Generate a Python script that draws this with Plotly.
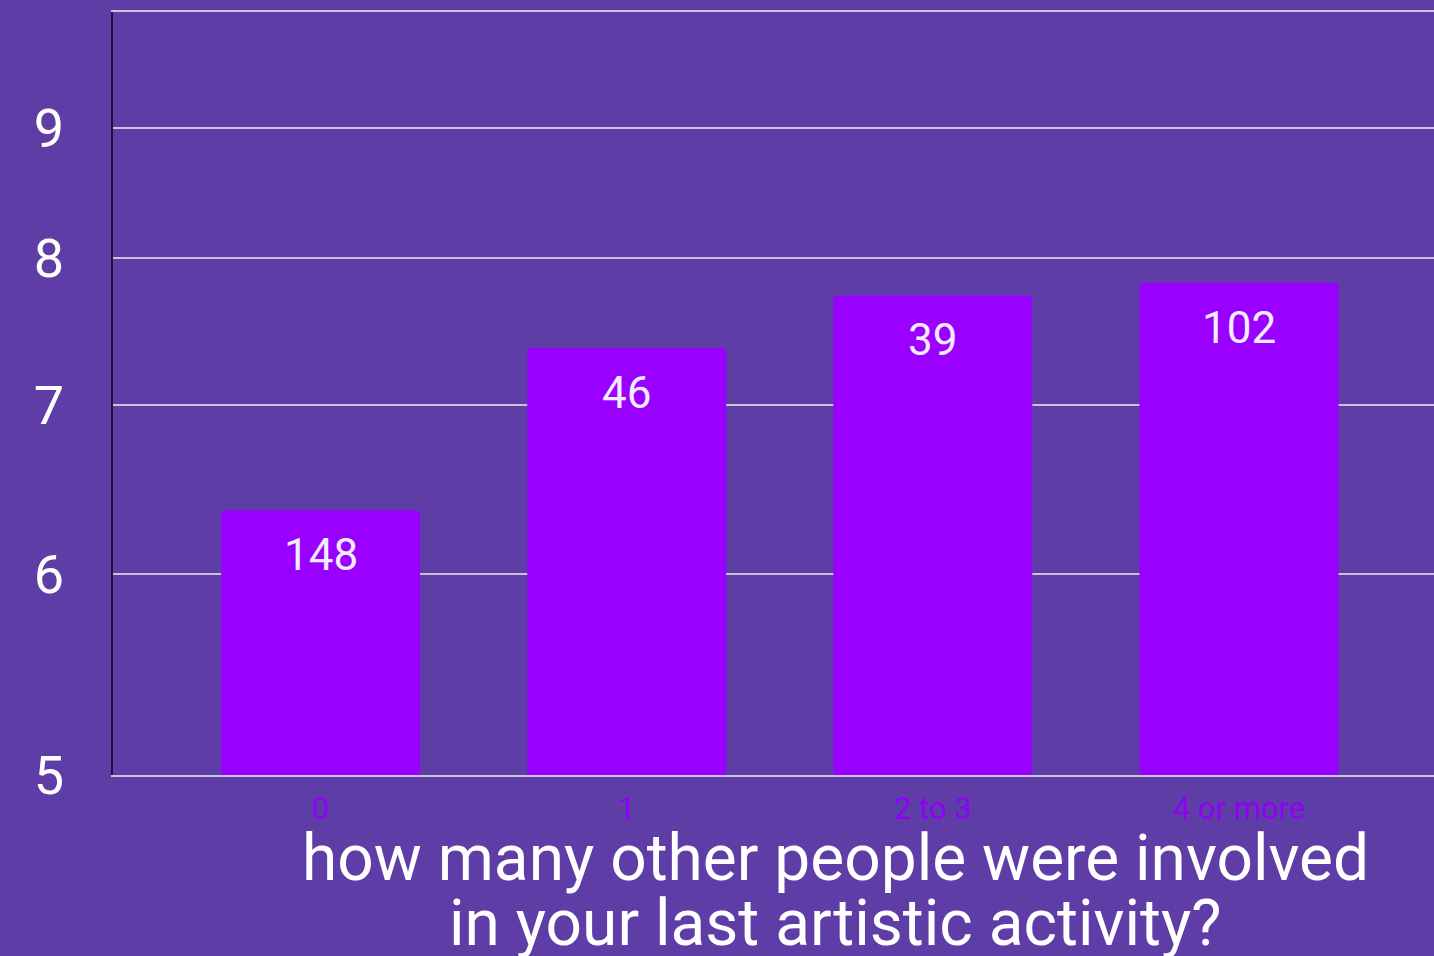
import numpy as np
import plotly.graph_objects as go

categories = ["0", "1", "2 to 3", "4 or more"]
mean_values = [6.36, 7.37, 7.73, 7.82]
counts = [148, 46, 39, 102]
y_tick_values = [5, 6, 7, 8, 9, 10]
y_tick_labels = ["5", "6", "7", "8", "9", ""]
x_title_lines = ["how many other people were involved", "in your last artistic activity?"]

BG = "#5e3da6"
BAR = "#9900ff"
GRID = "#c8c4d8"

fig = go.Figure()
fig.add_trace(go.Bar(
    x=categories, y=mean_values, width=0.65,
    marker=dict(color=BAR, line=dict(width=0), cornerradius=4),
    hoverinfo="skip",
))

for c, v, n in zip(categories, mean_values, counts):
    fig.add_annotation(
        x=c, y=np.log10(v), xref="x", yref="y", text=str(n),
        showarrow=False, yanchor="top", yshift=-17,
        font=dict(family="Roboto", size=44, color="#f4ecff"),
    )

for line, ypos in zip(x_title_lines, [-0.1088, -0.194]):
    fig.add_annotation(
        x=0.5466, y=ypos, xref="paper", yref="paper", text=line,
        showarrow=False, yanchor="middle", xanchor="center",
        font=dict(family="Roboto", size=64, color="white"),
    )

fig.update_layout(
    width=1434, height=956,
    margin=dict(l=113, r=0, t=12, b=181),
    paper_bgcolor=BG, plot_bgcolor=BG,
    showlegend=False,
    font=dict(family="Roboto"),
)
fig.update_xaxes(
    type="category", range=[-0.678, 3.637],
    showgrid=False, zeroline=False,
    showline=True, mirror=True, linecolor=GRID, linewidth=2,
    tickfont=dict(family="Roboto", size=31, color="#8f00f5"),
    ticks="", ticklabelstandoff=5,
)
fig.update_yaxes(
    type="log", range=[np.log10(5), 1],
    tickvals=y_tick_values, ticktext=y_tick_labels,
    showgrid=True, gridcolor=GRID, gridwidth=2,
    zeroline=False,
    showline=True, linecolor="#1c1530", linewidth=2,
    tickfont=dict(family="Roboto", size=54, color="white"),
    ticks="", ticklabelstandoff=36,
)

fig.write_html(
    "out.html",
    config={"displayModeBar": False},
    post_script="document.body.style.margin='0';document.body.style.overflow='hidden';",
)
